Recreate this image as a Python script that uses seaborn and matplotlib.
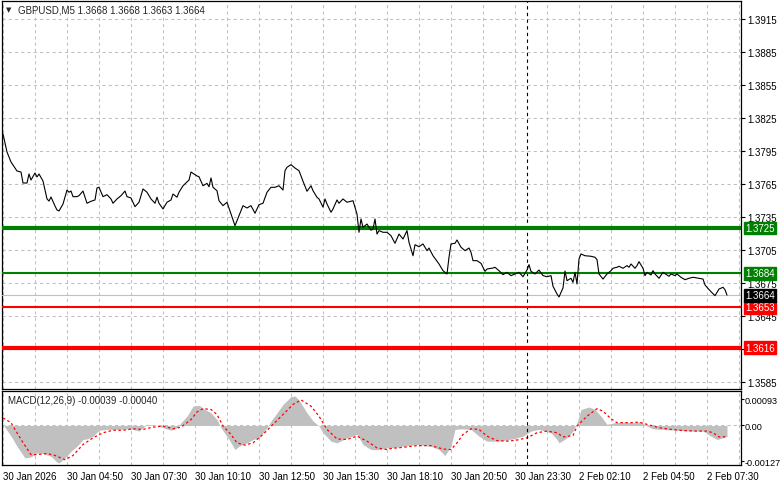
import matplotlib.pyplot as plt
import matplotlib.transforms as mtransforms
import seaborn as sns

sns.set_style("white")
plt.rcParams["font.family"] = ["Liberation Sans", "DejaVu Sans"]

# M5 close prices (bar index from the first visible bar)
bars = [0, 2, 4, 7, 9, 10, 12, 13, 14, 16,
        17, 18, 20, 22, 23, 24, 26, 27, 28, 30,
        32, 33, 34, 35, 37, 38, 40, 42, 44, 46,
        47, 48, 50, 52, 54, 55, 57, 59, 61, 62,
        64, 66, 68, 70, 72, 74, 76, 77, 78, 80,
        82, 84, 85, 87, 88, 90, 93, 94, 97, 98,
        100, 102, 103, 104, 105, 107, 108, 110, 112, 114,
        116, 118, 120, 122, 124, 126, 128, 130, 132, 134,
        136, 138, 140, 141, 142, 144, 146, 148, 150, 152,
        154, 155, 157, 158, 160, 161, 162, 164, 165, 167,
        168, 170, 172, 175, 177, 178, 179, 180, 182, 184,
        185, 186, 187, 188, 190, 192, 194, 196, 198, 200,
        202, 203, 205, 206, 208, 210, 212, 213, 215, 218,
        220, 222, 223, 224, 226, 227, 229, 231, 233, 234,
        235, 237, 239, 241, 242, 245, 246, 248, 250, 252,
        254, 256, 258, 260, 262, 263, 264, 266, 268, 270,
        272, 274, 275, 277, 278, 280, 281, 282, 284, 285,
        286, 287, 288, 289, 291, 294, 296, 297, 298, 300,
        302, 304, 305, 307, 308, 310, 312, 313, 314, 316,
        317, 318, 320, 321, 322, 324, 325, 326, 328, 330,
        332, 333, 334, 336, 337, 339, 341, 343, 345, 348,
        350, 351, 352, 354, 356, 358, 360, 361, 362]
close = [1.38105, 1.37941, 1.37850, 1.37768, 1.37759, 1.37659, 1.37659, 1.37741, 1.37686, 1.37750,
         1.37714, 1.37741, 1.37677, 1.37514, 1.37495, 1.37532, 1.37450, 1.37414, 1.37405, 1.37468,
         1.37595, 1.37575, 1.37586, 1.37535, 1.37535, 1.37544, 1.37586, 1.37475, 1.37493, 1.37505,
         1.37614, 1.37620, 1.37535, 1.37553, 1.37514, 1.37475, 1.37514, 1.37544, 1.37586, 1.37535,
         1.37523, 1.37444, 1.37484, 1.37605, 1.37575, 1.37514, 1.37475, 1.37530, 1.37475, 1.37423,
         1.37484, 1.37505, 1.37559, 1.37530, 1.37575, 1.37634, 1.37686, 1.37759, 1.37723, 1.37716,
         1.37634, 1.37656, 1.37625, 1.37705, 1.37620, 1.37589, 1.37498, 1.37453, 1.37484, 1.37377,
         1.37271, 1.37362, 1.37453, 1.37432, 1.37453, 1.37384, 1.37462, 1.37475, 1.37575, 1.37620,
         1.37620, 1.37634, 1.37595, 1.37771, 1.37802, 1.37826, 1.37795, 1.37771, 1.37675, 1.37584,
         1.37634, 1.37589, 1.37529, 1.37514, 1.37440, 1.37514, 1.37468, 1.37393, 1.37423, 1.37505,
         1.37475, 1.37514, 1.37484, 1.37498, 1.37377, 1.37211, 1.37332, 1.37256, 1.37286, 1.37230,
         1.37241, 1.37332, 1.37195, 1.37226, 1.37211, 1.37211, 1.37180, 1.37111, 1.37195, 1.37150,
         1.37226, 1.37120, 1.36998, 1.37098, 1.37080, 1.37105, 1.37044, 1.37068, 1.36998, 1.36923,
         1.36862, 1.36832, 1.36984, 1.37105, 1.37111, 1.37141, 1.37075, 1.37044, 1.37068, 1.37029,
         1.36953, 1.36953, 1.36929, 1.36856, 1.36877, 1.36886, 1.36893, 1.36862, 1.36826, 1.36847,
         1.36817, 1.36832, 1.36847, 1.36807, 1.36868, 1.36917, 1.36856, 1.36832, 1.36868, 1.36817,
         1.36807, 1.36817, 1.36720, 1.36650, 1.36623, 1.36705, 1.36859, 1.36771, 1.36793, 1.36756,
         1.36847, 1.36741, 1.36968, 1.37014, 1.36998, 1.36993, 1.36984, 1.36962, 1.36832, 1.36786,
         1.36832, 1.36862, 1.36884, 1.36893, 1.36902, 1.36884, 1.36908, 1.36893, 1.36923, 1.36884,
         1.36908, 1.36944, 1.36884, 1.36817, 1.36847, 1.36823, 1.36862, 1.36832, 1.36793, 1.36847,
         1.36823, 1.36811, 1.36832, 1.36817, 1.36832, 1.36802, 1.36780, 1.36793, 1.36802, 1.36793,
         1.36786, 1.36732, 1.36711, 1.36671, 1.36635, 1.36695, 1.36711, 1.36689, 1.36640]

# MACD(12,26,9) histogram and signal line
hist_bars = [0, 4, 7, 11, 14, 17, 20, 24, 27, 28,
             31, 34, 37, 40, 42, 45, 48, 52, 57, 62,
             65, 68, 72, 77, 80, 84, 87, 89, 92, 95,
             98, 101, 104, 107, 109, 113, 116, 118, 122, 125,
             128, 132, 134, 137, 140, 144, 146, 148, 152, 155,
             158, 160, 164, 167, 172, 177, 180, 184, 188, 192,
             194, 200, 207, 214, 218, 221, 224, 226, 229, 234,
             238, 242, 247, 252, 257, 260, 264, 268, 274, 277,
             278, 282, 285, 287, 289, 293, 296, 299, 302, 306,
             310, 315, 319, 322, 325, 330, 337, 344, 350, 354,
             357, 360, 362]
hist_vals = [0.00004, -0.00038, -0.00074, -0.00116, -0.00112, -0.00098, -0.00100, -0.00110, -0.00131, -0.00134,
             -0.00116, -0.00092, -0.00074, -0.00050, -0.00048, -0.00038, -0.00017, -0.00014, -0.00014, -0.00012,
             -0.00014, -0.00020, 0.00004, 0.0, -0.00008, -0.00017, -0.00008, 0.00010, 0.00033, 0.00069,
             0.00072, 0.00057, 0.00045, 0.00021, -0.00008, -0.00050, -0.00086, -0.00074, -0.00062, -0.00050,
             -0.00044, -0.00008, 0.00016, 0.00045, 0.00075, 0.00103, 0.00105, 0.00091, 0.00045, 0.00016,
             -0.00002, -0.00026, -0.00056, -0.00062, -0.00044, -0.00032, -0.00068, -0.00086, -0.00086, -0.00080,
             -0.00080, -0.00074, -0.00068, -0.00074, -0.00086, -0.00107, -0.00074, -0.00014, -0.00012, -0.00014,
             -0.00038, -0.00056, -0.00056, -0.00052, -0.00044, -0.00038, -0.00020, -0.00014, -0.00026, -0.00050,
             -0.00062, -0.00044, -0.00020, 0.00010, 0.00057, 0.00066, 0.00057, 0.00033, 0.00004, 0.00010,
             0.00012, 0.00010, 0.00013, -0.00002, -0.00012, -0.00014, -0.00017, -0.00020, -0.00020, -0.00038,
             -0.00050, -0.00044, -0.00039]
sig_bars = [0, 4, 9, 14, 17, 22, 26, 31, 35, 40,
            45, 50, 55, 60, 65, 70, 75, 80, 85, 89,
            94, 97, 100, 104, 107, 110, 114, 117, 121, 125,
            130, 135, 140, 145, 149, 154, 158, 162, 167, 172,
            177, 182, 187, 192, 194, 200, 207, 214, 220, 224,
            227, 230, 234, 238, 242, 247, 252, 257, 262, 267,
            272, 277, 280, 285, 287, 292, 297, 300, 304, 307,
            314, 318, 324, 328, 334, 340, 347, 352, 355, 358,
            362]
sig_vals = [0.00027, 0.00010, -0.00050, -0.00104, -0.00104, -0.00100, -0.00107, -0.00122, -0.00107, -0.00068,
            -0.00044, -0.00026, -0.00017, -0.00017, -0.00012, -0.00014, -0.00006, -0.00002, -0.00012, -0.00006,
            0.00021, 0.00048, 0.00060, 0.00057, 0.00039, -0.00002, -0.00032, -0.00062, -0.00070, -0.00062,
            -0.00032, 0.00004, 0.00039, 0.00075, 0.00091, 0.00069, 0.00033, -0.00014, -0.00048, -0.00050,
            -0.00038, -0.00056, -0.00080, -0.00086, -0.00082, -0.00078, -0.00072, -0.00072, -0.00084, -0.00086,
            -0.00062, -0.00032, -0.00012, -0.00014, -0.00038, -0.00054, -0.00056, -0.00052, -0.00044, -0.00026,
            -0.00020, -0.00026, -0.00041, -0.00036, -0.00002, 0.00033, 0.00060, 0.00051, 0.00024, 0.00010,
            0.00010, 0.00012, 0.0, -0.00008, -0.00014, -0.00018, -0.00020, -0.00020, -0.00026, -0.00041,
            -0.00040]

# horizontal levels drawn on the chart
levels = [1.3725, 1.3684, 1.3653, 1.3616]
level_colors = ["#008000", "#008000", "#ff0000", "#ff0000"]
level_widths = [3.0, 1.5, 1.5, 3.0]
last_price = 1.3664

price_ticks = [1.3585, 1.3615, 1.3645, 1.3675, 1.3705, 1.3735, 1.3765,
               1.3795, 1.3825, 1.3855, 1.3885, 1.3915]
# 1.3615 sits under the 1.3616 level box, so its label stays hidden
price_tick_labels = ["1.3585", "", "1.3645", "1.3675", "1.3705", "1.3735", "1.3765",
                     "1.3795", "1.3825", "1.3855", "1.3885", "1.3915"]
macd_ticks = [-0.00127, 0.0, 0.00093]
macd_tick_labels = ["-0.00127", "0.00", "0.00093"]
date_ticks = [0, 32, 64, 96, 128, 160, 192, 224, 256, 288, 320, 352]
date_labels = ["30 Jan 2026", "30 Jan 04:50", "30 Jan 07:30", "30 Jan 10:10",
               "30 Jan 12:50", "30 Jan 15:30", "30 Jan 18:10", "30 Jan 20:50",
               "30 Jan 23:30", "2 Feb 02:10", "2 Feb 04:50", "2 Feb 07:30"]
separator_bar = 262
title = "GBPUSD,M5 1.3668 1.3668 1.3663 1.3664"
macd_title = "MACD(12,26,9) -0.00039 -0.00040"

W, H = 781, 489
fig = plt.figure(figsize=(W / 100, H / 100), dpi=100)
ax = fig.add_axes([2 / W, 1 - 390 / H, 739 / W, 388 / H])
ax2 = fig.add_axes([2 / W, 1 - 466 / H, 739 / W, 74 / H])

grid_kw = dict(color="#c0c0c0", linestyle=(0, (3, 3)), linewidth=0.75)
fs = 7

# ---- price panel ----
sns.lineplot(x=bars, y=close, ax=ax, color="black", linewidth=0.8, zorder=5)
for lv, c, lw in zip(levels, level_colors, level_widths):
    ax.axhline(lv, color=c, linewidth=lw, zorder=4)
ax.axhline(last_price, color="#c0c0c0", linewidth=0.8, zorder=3)
ax.axvline(separator_bar, color="black", linestyle=(0, (3, 3)), linewidth=0.8, zorder=3)

ax.set_xlim(-0.5, 369)
ax.set_ylim(1.357864, 1.393136)
ax.set_xticks(range(0, 369, 16))
ax.set_yticks(price_ticks)
ax.set_yticklabels(price_tick_labels)
ax.yaxis.tick_right()
ax.tick_params(axis="y", direction="out", length=3, width=0.8, pad=1.5, labelsize=fs, colors="black")
ax.tick_params(axis="x", length=0, labelbottom=False)
ax.grid(True, **grid_kw)
ax.set_xlabel("")
ax.set_ylabel("")

trans = mtransforms.blended_transform_factory(ax.transAxes, ax.transData)
box_labels = levels + [last_price]
box_colors = level_colors + ["black"]
for lv, c in zip(box_labels, box_colors):
    ax.text(1.0055, lv, f"{lv:.4f}", transform=trans, ha="left", va="center",
            fontsize=fs, color="white", clip_on=False, zorder=10,
            bbox=dict(boxstyle="square,pad=0.15", facecolor=c, edgecolor=c))

ax.text(4 / 739, 0.9795, "\u25bc", transform=ax.transAxes, fontsize=5,
        ha="left", va="center", family=["DejaVu Sans"])
ax.text(16 / 739, 0.979, title, transform=ax.transAxes, fontsize=fs,
        ha="left", va="center")

# ---- MACD panel ----
ax2.axhline(0, zorder=0, **grid_kw)
ax2.fill_between(hist_bars, 0, hist_vals, color="#c0c0c0", linewidth=0, zorder=2)
sns.lineplot(x=sig_bars, y=sig_vals, ax=ax2, color="#ff0000", linewidth=0.9,
             linestyle=(0, (2, 2)), zorder=3)
ax2.axvline(separator_bar, color="black", linestyle=(0, (3, 3)), linewidth=0.8, zorder=3)

ax2.set_xlim(-0.5, 369)
ax2.set_ylim(-0.00141, 0.00123)
ax2.set_xticks(date_ticks)
ax2.set_xticklabels(date_labels, ha="left")
ax2.set_xticks(range(16, 369, 32), minor=True)
ax2.tick_params(axis="x", which="major", direction="out", length=3, width=0.8,
                pad=1.5, labelsize=fs, colors="black")
ax2.tick_params(axis="x", which="minor", length=0)
ax2.set_yticks(macd_ticks)
ax2.set_yticklabels(macd_tick_labels)
ax2.yaxis.tick_right()
ax2.tick_params(axis="y", direction="out", length=2, width=0.8, pad=0.5,
                labelsize=6.6, colors="black")
ax2.grid(True, axis="x", which="both", **grid_kw)
ax2.set_xlabel("")
ax2.set_ylabel("")
ax2.text(6 / 739, 0.88, macd_title, transform=ax2.transAxes, fontsize=fs,
         ha="left", va="center")

for a in (ax, ax2):
    for s in a.spines.values():
        s.set_color("black")
        s.set_linewidth(0.9)

fig.savefig("out.png", dpi=100, facecolor="white")
